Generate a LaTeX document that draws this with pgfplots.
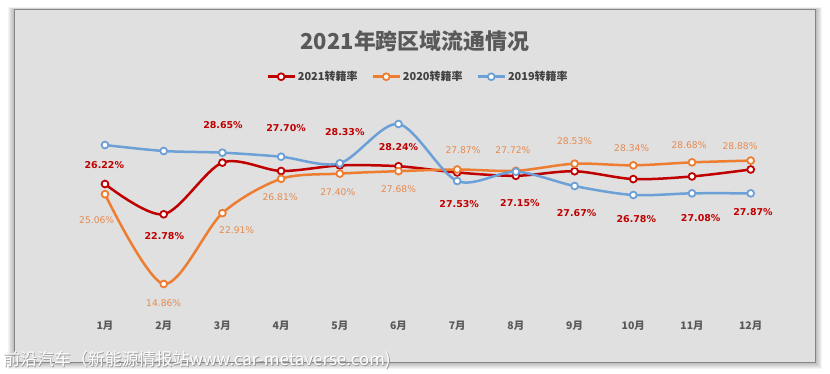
\documentclass[border=0pt]{standalone}
\usepackage{pgfplots}
\pgfplotsset{compat=1.18}
\usepackage{pgfplotstable}
\usepackage{fontspec}
\setmainfont{DejaVu Sans}
\newfontfamily\cjk{Noto Sans CJK SC}
\newfontfamily\dejavu{DejaVu Sans}
\definecolor{c21}{HTML}{C00000}
\definecolor{c20}{HTML}{ED7D31}
\definecolor{c19}{HTML}{6CA0D6}
\definecolor{l20}{HTML}{E58A4E}
\definecolor{panel}{HTML}{E0E0E0}
\definecolor{txt}{HTML}{595959}
\definecolor{legtxt}{HTML}{404040}

\pgfplotstableread{
x y dx dy
1 26.22 -0.7 19
2 22.78 0.6 -21.7
3 28.65 0.6 37.6
4 27.70 5 43
5 28.33 5 33
6 28.24 0 19.5
7 27.53 2 -31.8
8 27.15 4 -27
9 27.67 2 -42
10 26.78 3 -40
11 27.08 8.7 -41.6
12 27.87 2.3 -42.2
}\tblA

\pgfplotstableread{
x y dx dy
1 25.06 -8.3 -25.8
2 14.86 0 -18.8
3 22.91 14.3 -16.9
4 26.81 -1 -18.5
5 27.40 -2 -18.1
6 27.68 0 -18.1
7 27.87 5.8 19.5
8 27.72 -3 20.8
9 28.53 0 23
10 28.34 -1.6 17
11 28.68 -3 16.7
12 28.88 -10.7 14.9
}\tblB

\pgfplotstableread{
x y
1 30.65
2 29.97
3 29.78
4 29.32
5 28.57
6 33.04
7 26.56
8 27.62
9 25.99
10 24.97
11 25.16
12 25.16
}\tblC

\begin{document}
\begin{tikzpicture}
\fill[white] (-75.65bp,-64.86bp) rectangle (754.35bp,309.14bp);
\foreach \i in {1,...,7} {
  \fill[black,opacity=0.045] ({-60.65bp-\i*1bp},{-52.86bp-\i*1bp}) rectangle ({739.35bp+\i*1bp},{299.14bp+\i*0.4bp});
}
\fill[panel, draw=gray!95, line width=1bp] (-60.65bp,-52.86bp) rectangle (739.35bp,299.14bp);

\begin{axis}[
  at={(0,0)}, anchor=south west,
  x=58.7bp, y=8.8bp,
  xmin=0.5, xmax=12.5, ymin=12, ymax=34,
  axis line style={draw=none}, tick style={draw=none}, major tick length=0pt,
  ytick=\empty,
  xtick={1,...,12},
  xticklabels={1月,2月,3月,4月,5月,6月,7月,8月,9月,10月,11月,12月},
  xticklabel style={font=\cjk\bfseries\fontsize{10.5}{12}\selectfont, text=txt, anchor=center},
  xticklabel shift=16.9bp,
  clip=false,
  legend style={at={(0.486,1.2004)}, anchor=center, draw=none, fill=none,
    legend columns=3, font=\cjk\bfseries\fontsize{11}{13}\selectfont, text=legtxt,
    /tikz/every even column/.append style={column sep=12bp}},
  legend image code/.code={\draw[mark repeat=2,mark phase=2,#1] plot coordinates {(0bp,0bp) (13.5bp,0bp) (27bp,0bp)};},
]
\addplot[c21, line width=2.5bp, smooth, mark=*, mark size=3.4bp,
  mark options={fill=white, draw=c21, line width=1.8bp},
  point meta=y,
  nodes near coords={\pgfmathprintnumber[fixed,fixed zerofill,precision=2,assume math mode=true]{\pgfplotspointmeta}\%},
  visualization depends on={\thisrow{dx} \as \dx},
  visualization depends on={\thisrow{dy} \as \dy},
  every node near coord/.append style={anchor=center, xshift={\dx*1bp}, yshift={\dy*1bp},
    font=\dejavu\bfseries\fontsize{9.5}{11}\selectfont, text=c21},
] table[x=x,y=y] {\tblA};
\addlegendentry{2021转籍率}
\addplot[c20, line width=2.5bp, smooth, mark=*, mark size=3.4bp,
  mark options={fill=white, draw=c20, line width=1.8bp},
  point meta=y,
  nodes near coords={\pgfmathprintnumber[fixed,fixed zerofill,precision=2,assume math mode=true]{\pgfplotspointmeta}\%},
  visualization depends on={\thisrow{dx} \as \dx},
  visualization depends on={\thisrow{dy} \as \dy},
  every node near coord/.append style={anchor=center, xshift={\dx*1bp}, yshift={\dy*1bp},
    font=\dejavu\fontsize{9.2}{11}\selectfont, text=l20},
] table[x=x,y=y] {\tblB};
\addlegendentry{2020转籍率}
\addplot[c19, line width=2.5bp, smooth, mark=*, mark size=3.4bp,
  mark options={fill=white, draw=c19, line width=1.8bp},
] table[x=x,y=y] {\tblC};
\addlegendentry{2019转籍率}
\end{axis}

\node[font=\cjk\bfseries\fontsize{22}{26}\selectfont, text=txt] at (339.35bp,268.14bp) {2021年跨区域流通情况};
\node[anchor=west, font=\cjk\fontsize{17}{19}\selectfont, text=gray!80, inner sep=0pt] at (-71.85bp,-51.66bp) {前沿汽车（新能源情报站www.car-metaverse.com)};
\node[anchor=west, font=\cjk\fontsize{17}{19}\selectfont, text=white, inner sep=0pt] at (-72.65bp,-50.86bp) {前沿汽车（新能源情报站www.car-metaverse.com)};
\end{tikzpicture}
\end{document}
